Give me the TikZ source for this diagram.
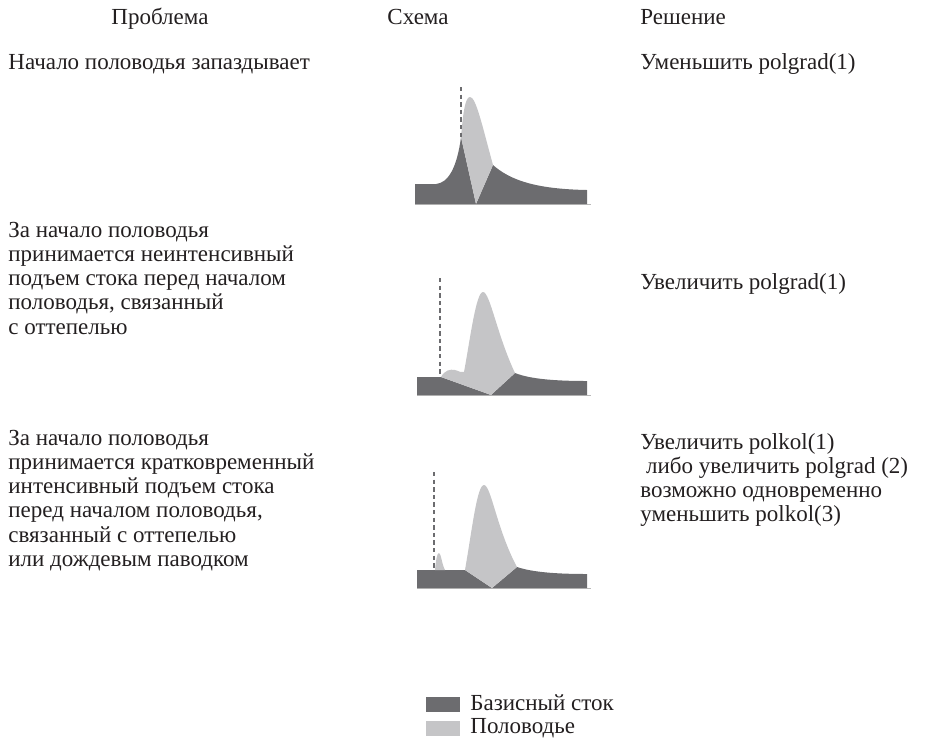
\documentclass[tikz,border=0pt]{standalone}
\usepackage{fontspec}
\setmainfont{Liberation Serif}
\definecolor{basecol}{HTML}{6C6C6F}
\definecolor{floodcol}{HTML}{C5C5C7}
\definecolor{txtcol}{HTML}{231F20}
\begin{document}
\begin{tikzpicture}[x=0.5pt, y=-0.5pt,
    lbl/.style={anchor=base west, inner sep=0pt, align=left, text=txtcol,
        font=\fontsize{11.5}{12.15}\selectfont},
    hdr/.style={anchor=base, inner sep=0pt, text=txtcol,
        font=\fontsize{11.5}{12.15}\selectfont},
    basefill/.style={fill=basecol},
    floodfill/.style={fill=floodcol},
    onset/.style={draw=basecol, dash pattern=on 2.2pt off 1.6pt, line width=0.6pt},
    axisline/.style={draw=gray!55, line width=0.4pt}]
    \useasboundingbox (0,0) rectangle (952,740);
    \node[hdr] (hprob) at (160,24) {Проблема};
    \node[hdr] (hsch) at (418,24) {Схема};
    \node[lbl] (hsol) at (640,24) {Решение};
    \node[lbl] (prob1) at (8,69) {Начало половодья запаздывает};
    \node[lbl] (prob2) at (8,334.2) {За начало половодья\\принимается неинтенсивный\\подъем стока перед началом\\половодья, связанный\\с оттепелью};
    \node[lbl] (prob3) at (8,566.5) {За начало половодья\\принимается кратковременный\\интенсивный подъем стока\\перед началом половодья,\\связанный с оттепелью\\или дождевым паводком};
    \node[lbl] (sol1) at (640,69) {Уменьшить polgrad(1)};
    \node[lbl] (sol2) at (640,289) {Увеличить polgrad(1)};
    \node[lbl] (sol3) at (640,521.9) {Увеличить polkol(1)\\\hspace*{0.25em}либо увеличить polgrad (2)\\возможно одновременно\\уменьшить polkol(3)};
    \draw[axisline] (415,204) -- (591,204);
    \fill[basefill] (415,204) -- (415,184) -- (436,184) .. controls (448,183) and (457,168) .. (461,137)
        -- (476,204) -- (493,165) .. controls (510,180) and (535,189) .. (587,190) -- (587,204) -- cycle;
    \fill[floodfill] (461,137) .. controls (463,114) and (465,97) .. (470,97)
        .. controls (476,97) and (482,125) .. (493,165) -- (476,204) -- cycle;
    \draw[onset] (461,87) -- (461,137);
    \draw[axisline] (417,395) -- (591,395);
    \fill[basefill] (417,395) -- (417,377) -- (441,377) -- (491,395) -- (515,373)
        .. controls (530,379) and (555,381) .. (587,381) -- (587,395) -- cycle;
    \fill[floodfill] (441,377) .. controls (445,370) and (450,369) .. (455,370)
        .. controls (459,371) and (461,373) .. (464,372)
        .. controls (470,340) and (476,292) .. (483,292)
        .. controls (490,292) and (497,335) .. (515,373) -- (491,395) -- cycle;
    \draw[onset] (440,278) -- (440,377);
    \draw[axisline] (417,588) -- (591,588);
    \fill[basefill] (417,588) -- (417,570) -- (465,570) -- (492,588) -- (517,567)
        .. controls (532,572) and (555,574) .. (587,574) -- (587,588) -- cycle;
    \draw[onset] (434,472) -- (434,570);
    \fill[floodfill] (435,570) .. controls (436,560) and (437,553) .. (439,553)
        .. controls (441,553) and (442,565) .. (445,570) -- cycle;
    \fill[floodfill] (465,570) .. controls (472,530) and (477,485) .. (484,485)
        .. controls (491,485) and (497,530) .. (517,567) -- (492,588) -- cycle;
    \fill[basefill] (426,697) rectangle (460,712);
    \node[lbl] (leg1) at (470,710) {Базисный сток};
    \fill[floodfill] (426,721) rectangle (460,736);
    \node[lbl] (leg2) at (470,733) {Половодье};
\end{tikzpicture}
\end{document}
